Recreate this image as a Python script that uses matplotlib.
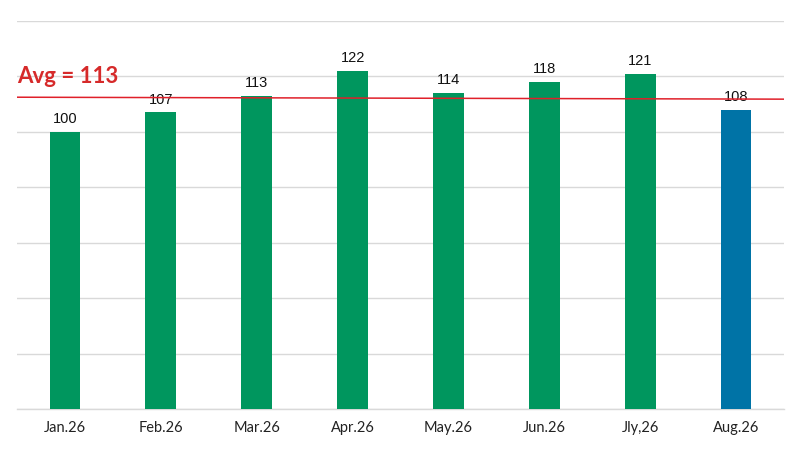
import matplotlib
matplotlib.use("Agg")
import matplotlib.pyplot as plt

months = ["Jan.26", "Feb.26", "Mar.26", "Apr.26", "May.26", "Jun.26", "Jly,26", "Aug.26"]
values = [100, 107, 113, 122, 114, 118, 121, 108]
avg_value = 113
avg_line_ends = [112.5, 111.8]

green = "#00965E"
blue = "#0073A6"
colors = [green] * 7 + [blue]

fig = plt.figure(figsize=(8.01, 4.56), dpi=100)
ax = fig.add_axes([17 / 801, 46 / 456, 767 / 801, 388 / 456])
x = list(range(len(months)))
ax.bar(x, values, width=0.32, color=colors, zorder=3)
ax.set_xlim(-0.5, len(months) - 0.5)
ax.set_ylim(0, 140)
ax.set_yticks(range(0, 141, 20))
ax.yaxis.grid(True, color="#D9D9D9", linewidth=1, zorder=0)
ax.tick_params(axis="y", left=False, labelleft=False)
ax.tick_params(axis="x", length=0, pad=8)
ax.set_xticks(x)
ax.set_xticklabels(months, fontsize=10.5, family=["Lato", "DejaVu Sans"], color="#222222")
for s in ["top", "right", "left"]:
    ax.spines[s].set_visible(False)
ax.spines["bottom"].set_color("#D9D9D9")
ax.spines["bottom"].set_linewidth(1)

for xi, v in zip(x, values):
    ax.text(xi, v + 2.5, str(v), ha="center", va="bottom", fontsize=10.5,
            family=["Liberation Sans", "DejaVu Sans"], color="#111111", zorder=4)

ax.plot([-0.5, len(months) - 0.5], avg_line_ends, color="#E0202A", linewidth=1.1, zorder=5)
ax.text(-0.5, avg_value + 3.6, f"Avg = {avg_value}", ha="left", va="bottom", fontsize=16,
        fontweight="bold", family=["Lato", "DejaVu Sans"], color="#D62A2A", zorder=6)

fig.savefig("out.png", dpi=100)
